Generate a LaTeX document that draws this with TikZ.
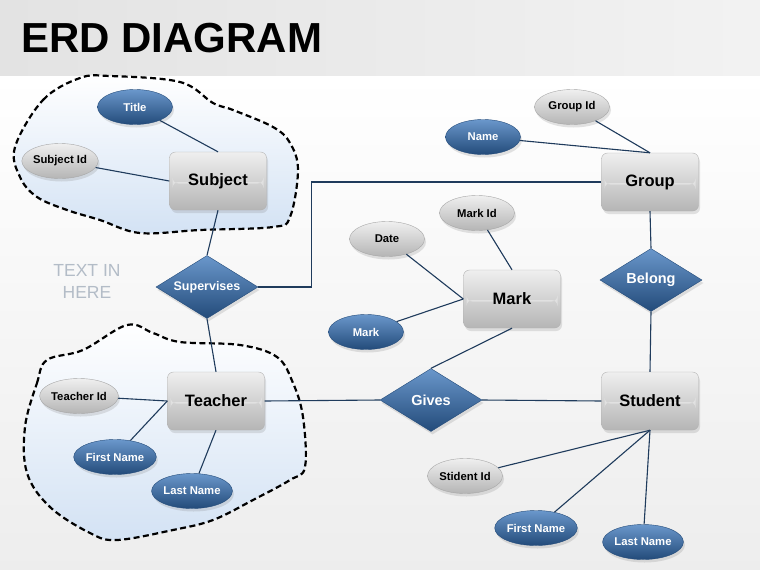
\documentclass[tikz,border=0pt]{standalone}
\usepackage{fontspec}
\setmainfont{Liberation Sans}
\usetikzlibrary{shapes.geometric,shadows}
\definecolor{linec}{HTML}{1F3B5C}
\definecolor{blueT}{HTML}{6A97CB}
\definecolor{blueM}{HTML}{3E6DA5}
\definecolor{blueB}{HTML}{234B7A}
\definecolor{grayT}{HTML}{EFEFEF}
\definecolor{grayM}{HTML}{D8D8D8}
\definecolor{grayB}{HTML}{B5B5B5}
\definecolor{blobF}{HTML}{D3E2F4}
\definecolor{hintc}{HTML}{B3BCC7}
\tikzset{
  shad/.style={drop shadow={opacity=0.22, shadow xshift=1.5pt, shadow yshift=-3pt}},
  entity/.style={rectangle, rounded corners=6pt, minimum width=97pt, minimum height=58pt,
    inner sep=0pt, draw=gray!60, top color=grayT, middle color=grayM, bottom color=grayB, shad,
    font=\fontsize{16.5}{18}\selectfont\bfseries,
    path picture={\fill[white, opacity=0.35]
      ([xshift=3pt,yshift=-1pt]path picture bounding box.west) rectangle ([xshift=-3pt,yshift=-2.5pt]path picture bounding box.east);}},
  attrB/.style={ellipse, minimum width=75pt, minimum height=35pt, inner sep=0pt,
    draw=blueB, top color=blueT, middle color=blueM, bottom color=blueB, text=white, shad,
    font=\fontsize{11.3}{12}\selectfont\bfseries},
  attrG/.style={ellipse, minimum width=75pt, minimum height=35pt, inner sep=0pt,
    draw=gray!70, top color=grayT, middle color=grayM, bottom color=grayB, shad,
    font=\fontsize{11.3}{12}\selectfont\bfseries},
  rel/.style={diamond, shape aspect=1.63, minimum width=102pt, minimum height=63pt, inner sep=0pt,
    draw=blueB, top color=blueT, middle color=blueM, bottom color=blueB, text=white, shad,
    font=\fontsize{14.5}{16}\selectfont\bfseries},
  conn/.style={draw=linec, line width=1.1pt},
  blob/.style={draw=black, line width=2.2pt, dash pattern=on 6pt off 3.5pt, top color=white, bottom color=blobF},
}
\begin{document}
\begin{tikzpicture}[x=1pt,y=-1pt]
\useasboundingbox (0,0) rectangle (760,570);
% background
\fill[top color=white, bottom color=gray!14] (0,75) rectangle (760,570);
\fill[left color=gray!22, right color=gray!10] (0,0) rectangle (760,75);
\node[anchor=base west, inner sep=0pt, font=\fontsize{42}{45}\selectfont\bfseries] (title) at (21,52) {ERD DIAGRAM};

% blobs
\path[blob] plot[smooth cycle, tension=0.6] coordinates {
 (15,147) (43,100) (80,78) (110,76) (180,82) (213,103) (233,110) (273,127) (290,143) (298,170)
 (290,217) (273,227) (200,230) (140,233) (100,220) (67,210) (37,197) (20,177)};
\path[blob] plot[smooth cycle, tension=0.6] coordinates {
 (25,427) (37,383) (47,360) (83,350) (127,325) (153,333) (180,342) (240,345) (277,357) (293,383)
 (303,417) (305,467) (290,480) (253,500) (213,520) (173,530) (117,540) (90,533) (50,507) (27,473)};

% hint text
\node[text=hintc, font=\fontsize{17.5}{22}\selectfont, align=center] (hint) at (87,281) {TEXT IN\\HERE};

% entities
\node[entity] (subject) at (218,181) {Subject};
\node[entity] (teacher) at (216,401) {Teacher};
\node[entity] (mark) at (512,299) {Mark};
\node[entity] (group) at (650,182) {Group};
\node[entity] (student) at (650,401) {Student};

% relationships
\node[rel, font=\fontsize{12.5}{14}\selectfont\bfseries] (sup) at (207,287) {Supervises};
\node[rel] (gives) at (431,400) {Gives};
\node[rel] (belong) at (651,280) {Belong};

% attributes
\node[attrB] (title1) at (135,107) {Title};
\node[attrG] (subid) at (60,161) {Subject Id};
\node[attrG] (teaid) at (79,396) {Teacher Id};
\node[attrB] (tfn) at (115,457) {First Name};
\node[attrB] (tln) at (192,491) {Last Name};
\node[attrG] (date) at (387,239) {Date};
\node[attrG] (markid) at (477,213) {Mark Id};
\node[attrB] (markat) at (366,332) {Mark};
\node[attrB] (name) at (483,137) {Name};
\node[attrG] (grpid) at (572,107) {Group Id};
\node[attrG] (stid) at (465,476) {Stident Id};
\node[attrB] (sfn) at (536,528) {First Name};
\node[attrB] (sln) at (643,542) {Last Name};

% connectors
\path[conn] (title1) -- (subject.north);
\path[conn] (subid) -- (subject.west);
\path[conn] (subject.south) -- (sup.north);
\path[conn] (sup.south) -- (teacher.north);
\path[conn] (sup.east) -- ++(53,0) |- (group.west);
\path[conn] (teaid) -- (teacher.west);
\path[conn] (tfn) -- (teacher.west);
\path[conn] (tln) -- (teacher.south);
\path[conn] (teacher.east) -- (gives.west);
\path[conn] (gives.east) -- (student.west);
\path[conn] (gives.north) -- (mark.south);
\path[conn] (date) -- (mark.west);
\path[conn] (markat) -- (mark.west);
\path[conn] (markid) -- (mark.north);
\path[conn] (name) -- (group.north);
\path[conn] (grpid) -- (group.north);
\path[conn] (group.south) -- (belong.north);
\path[conn] (belong.south) -- (student.north);
\path[conn] (stid) -- (student.south);
\path[conn] (sfn) -- (student.south);
\path[conn] (sln) -- (student.south);
\end{tikzpicture}
\end{document}
